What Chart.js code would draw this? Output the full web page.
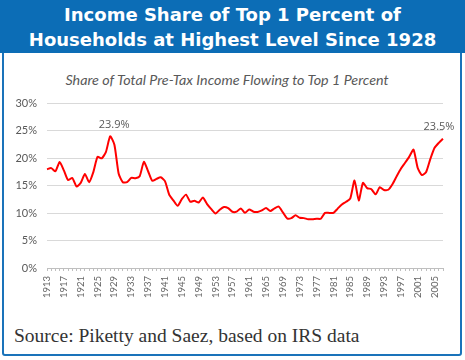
<!DOCTYPE html>
<html>
<head>
<meta charset="utf-8">
<script src="https://cdn.jsdelivr.net/npm/chart.js@4.4.1/dist/chart.umd.min.js"></script>
<style>
  html, body { margin: 0; padding: 0; background: #fff; }
  #wrap { position: relative; width: 465px; height: 360px; overflow: hidden; }
  #box {
    position: absolute; left: 2px; top: 46px; width: 456px; height: 306px;
    border: 2px solid #1a73ba; border-radius: 3px; background: #fff;
  }
  #banner {
    position: absolute; left: 0; top: 0; width: 465px; height: 53px;
    background: #0c6db6; color: #fff; text-align: center;
    font: bold 18px "DejaVu Sans", Verdana, sans-serif; line-height: 25px;
    padding-top: 2px; box-sizing: border-box;
  }
  #sub {
    position: absolute; left: 0; top: 71px; width: 454px; text-align: center;
    font: italic 14.3px Lato, sans-serif; color: #595959;
  }
  #source {
    position: absolute; left: 14px; top: 325px;
    font: 19.5px "Liberation Serif", serif; color: #333;
  }
  canvas { position: absolute; left: 0; top: 0; }
</style>
</head>
<body>
<div id="wrap">
  <div id="box"></div>
  <div id="banner">Income Share of Top 1 Percent of<br>Households at Highest Level Since 1928</div>
  <div id="sub">Share of Total Pre-Tax Income Flowing to Top 1 Percent</div>
  <div id="source">Source: Piketty and Saez, based on IRS data</div>
  <canvas id="myChart" width="465" height="360"></canvas>
</div>
<script>
// years 1913..2007, top 1% share (%)
const years = [];
for (let y = 1913; y <= 2007; y++) years.push(String(y));

const share = [
  17.96, 18.16, 17.58, 19.27, 17.75, 15.98, 16.37, 14.83, 15.47, 17.07,
  15.59, 17.44, 20.21, 19.93, 21.13, 23.94, 22.42, 17.19, 15.58, 15.61,
  16.39, 16.32, 16.69, 19.29, 17.59, 15.84, 16.20, 16.49, 15.80, 13.35,
  12.29, 11.30, 12.52, 13.34, 12.05, 12.22, 11.91, 12.82, 11.61, 10.70,
  9.91, 10.60, 11.09, 10.89, 10.22, 10.25, 10.84, 10.03, 10.65, 10.24,
  10.20, 10.47, 10.93, 10.35, 10.84, 11.16, 10.10, 9.03, 9.06, 9.57,
  9.13, 9.07, 8.86, 8.87, 8.95, 8.95, 10.02, 10.02, 10.03, 10.80,
  11.56, 12.04, 12.67, 15.92, 12.28, 15.47, 14.53, 14.33, 13.40, 14.69,
  14.18, 14.22, 15.23, 16.67, 18.05, 19.13, 20.25, 21.52, 18.19, 16.90,
  17.46, 19.83, 21.85, 22.76, 23.50
];

const yTicks = [0, 5, 10, 15, 20, 25, 30];
const callouts = [{ year: '1928', text: '23.9%' }, { year: '2007', text: '23.5%' }];

const calloutPlugin = {
  id: 'callouts',
  afterDatasetsDraw(chart) {
    const ctx = chart.ctx;
    const meta = chart.getDatasetMeta(0);
    ctx.save();
    ctx.font = '11px "Open Sans", sans-serif';
    ctx.fillStyle = '#595959';
    ctx.textAlign = 'center';
    ctx.textBaseline = 'bottom';
    callouts.forEach(c => {
      const i = years.indexOf(c.year);
      const p = meta.data[i];
      ctx.fillText(c.text, p.x + (i === years.length - 1 ? -4 : 4), p.y - 6);
    });
    ctx.restore();
  }
};

const ctx = document.getElementById('myChart').getContext('2d');
const myChart = new Chart(ctx, {
  type: 'line',
  data: {
    labels: years,
    datasets: [{
      data: share,
      borderColor: '#ff0000',
      borderWidth: 2,
      pointRadius: 0,
      tension: 0.2,
      fill: false
    }]
  },
  options: {
    responsive: false,
    animation: false,
    layout: { padding: { top: 103, right: 22, bottom: 42, left: 0 } },
    plugins: { legend: { display: false }, tooltip: { enabled: false } },
    scales: {
      x: {
        offset: false,
        border: { display: true, color: '#bfbfbf' },
        grid: { display: true, drawOnChartArea: false, drawTicks: true, tickLength: 3, color: '#bfbfbf' },
        ticks: {
          autoSkip: false, minRotation: 90, maxRotation: 90, padding: 5,
          color: '#666666', font: { family: 'Lato', size: 9.5 },
          callback: function (v, i) { return (i % 4 === 0) ? years[i] : ''; }
        },
        afterFit: function (s) { s.height = 50; }
      },
      y: {
        min: 0, max: 30,
        border: { display: false },
        grid: { color: '#d9d9d9', drawTicks: false },
        afterBuildTicks: function (s) { s.ticks = yTicks.map(v => ({ value: v })); },
        ticks: {
          padding: 10, color: '#595959', font: { family: 'Lato', size: 11 },
          callback: v => v + '%'
        },
        afterFit: function (s) { s.width = 47; }
      }
    }
  },
  plugins: [calloutPlugin]
});
</script>
</body>
</html>
